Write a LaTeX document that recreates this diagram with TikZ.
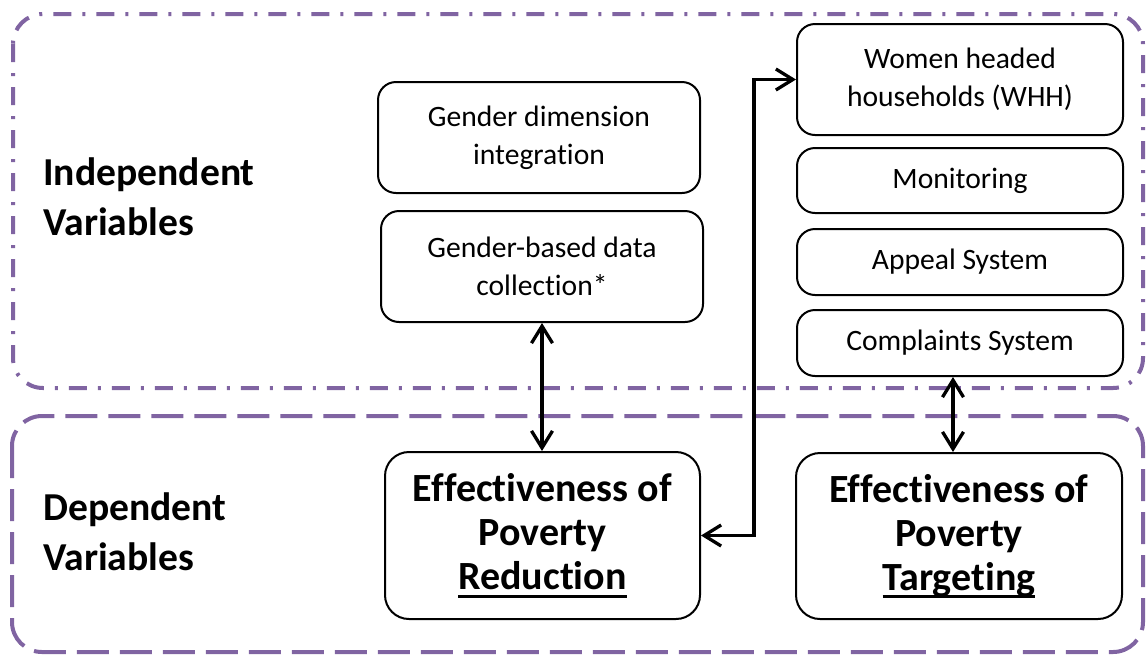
\documentclass[tikz,border=0pt]{standalone}
\usepackage{fontspec}
\setmainfont{Carlito}[Ligatures=NoCommon]
\usetikzlibrary{arrows.meta,calc}
\definecolor{grp}{RGB}{128,100,162}
\newcommand\myul[1]{\setbox0\hbox{#1}\rlap{\rule[-4pt]{\wd0}{1.3pt}}\box0}
\tikzset{
  smallbox/.style={draw=black, line width=1pt, rounded corners=9pt, align=center,
    font=\fontsize{14.8}{19}\selectfont, inner sep=0pt},
  bigbox/.style={draw=black, line width=1pt, rounded corners=12pt, align=center,
    font=\fontsize{20}{22}\selectfont\bfseries, inner sep=0pt},
  grouplabel/.style={align=left, font=\fontsize{19.8}{25}\selectfont\bfseries, inner sep=0pt, anchor=west},
  tip/.style={Straight Barb[length=8.5pt,width=10.5pt,line width=1.65pt]},
  arr/.style={line width=1.65pt, {Straight Barb[length=8.5pt,width=10.5pt,line width=1.65pt]}-{Straight Barb[length=8.5pt,width=10.5pt,line width=1.65pt]}},
  indepgroup/.style={draw=grp, line width=2pt, rounded corners=15pt,
    dash pattern=on 9pt off 5.5pt on 1.5pt off 5.5pt},
  depgroup/.style={draw=grp, line width=2pt, rounded corners=15pt,
    dash pattern=on 16pt off 5.5pt}
}
\begin{document}
\begin{tikzpicture}[x=0.5pt,y=-0.5pt]
\useasboundingbox (0,0) rectangle (1146,655);
% group frames
\draw[indepgroup] (13,14) rectangle (1143,388);
\draw[depgroup] (12,416) rectangle (1143,652);
% group labels
\node[grouplabel] (indlab) at (43,196.5) {Independent\\Variables};
\node[grouplabel] (deplab) at (43,531.5) {Dependent\\Variables};
% independent variable boxes
\node[smallbox, minimum width=161pt, minimum height=55.5pt] (gdi) at (539,137.5) {Gender dimension\\integration};
\node[smallbox, minimum width=161pt, minimum height=55.5pt] (gbd) at (542,266.5) {Gender-based data\\collection*};
\node[smallbox, minimum width=163pt, minimum height=55.5pt] (whh) at (960,79.5) {Women headed\\households (WHH)};
\node[smallbox, minimum width=163pt, minimum height=32.5pt] (mon) at (960,180.5) {Monitoring};
\node[smallbox, minimum width=163pt, minimum height=33pt] (app) at (960,262) {Appeal System};
\node[smallbox, minimum width=163pt, minimum height=33pt] (comp) at (960,343) {Complaints System};
% dependent variable boxes
\node[bigbox, minimum width=157.5pt, minimum height=83.5pt] (red) at (542.5,535.5) {Effectiveness of\\Poverty\\\myul{Reduction}};
\node[bigbox, minimum width=163pt, minimum height=83pt] (tgt) at (959,536) {Effectiveness of\\Poverty\\\myul{Targeting}};
% connectors
\draw[arr] (gbd.south) -- (gbd.south |- red.north);
\draw[arr] ([xshift=-3.5pt]comp.south) -- ([xshift=-3pt]tgt.north);
\draw[arr] (red.east) -- ++(53,0) |- (whh.west);
\end{tikzpicture}
\end{document}
